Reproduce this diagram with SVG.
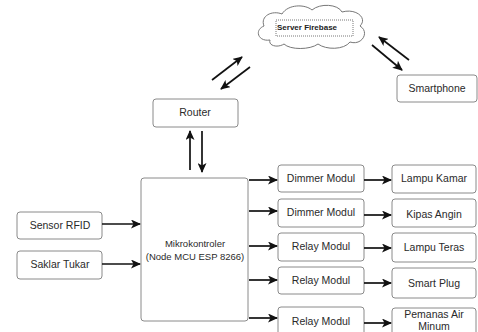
<svg xmlns="http://www.w3.org/2000/svg" width="478" height="332" viewBox="0 0 478 332">
<style>
.box{fill:#fff;stroke:#8a8a8a;stroke-width:1}
.t{font-family:"Liberation Sans",Arial,sans-serif;font-size:10.5px;fill:#2a2a2a;text-anchor:middle}
.c{stroke:#111;stroke-width:1.7;fill:none;marker-end:url(#ah)}
</style>
<defs>
<marker id="ah" markerUnits="userSpaceOnUse" markerWidth="11" markerHeight="9" refX="9" refY="4.5" orient="auto">
<path d="M0,0 L10,4.5 L0,9 L2.5,4.5 Z" fill="#111"/>
</marker>
</defs>
<rect width="478" height="332" fill="#fff"/>
<g id="cloud">
<path d="M270,40 C258,42 254,30 264,26 C260,16 272,10 282,14 C288,4 305,4 312,10 C320,3 338,4 342,12 C356,8 368,18 360,26 C370,32 362,46 350,42 C344,50 326,50 318,44 C310,50 290,50 284,44 C278,48 268,46 270,40 Z" fill="#fff" stroke="#777" stroke-width="1"/>
<rect x="276" y="20" width="77" height="16" fill="none" stroke="#555" stroke-width="0.8" stroke-dasharray="1,1"/>
<text x="277" y="30" style="font-family:'Liberation Sans',Arial,sans-serif;font-size:8px;font-weight:bold;fill:#222">Server Firebase</text>
</g>
<g id="smartphone"><rect class="box" x="397" y="75" width="80" height="27" rx="3"/><text class="t" x="437" y="92">Smartphone</text></g>
<g id="router"><rect class="box" x="153" y="99" width="85" height="28" rx="3"/><text class="t" x="195" y="116">Router</text></g>
<g id="mikro"><rect class="box" x="141" y="178" width="107" height="143" rx="3"/><text class="t" x="195" y="247" style="font-size:9.5px">Mikrokontroler</text><text class="t" x="195" y="260" style="font-size:9.5px">(Node MCU ESP 8266)</text></g>
<g id="rfid"><rect class="box" x="17" y="212" width="85" height="27" rx="3"/><text class="t" x="60" y="229">Sensor RFID</text></g>
<g id="saklar"><rect class="box" x="17" y="251" width="85" height="28" rx="3"/><text class="t" x="60" y="268">Saklar Tukar</text></g>
<g id="dimmer1"><rect class="box" x="278" y="165" width="86" height="27" rx="3"/><text class="t" x="321" y="182">Dimmer Modul</text></g>
<g id="dimmer2"><rect class="box" x="278" y="199" width="86" height="28" rx="3"/><text class="t" x="321" y="216">Dimmer Modul</text></g>
<g id="relay1"><rect class="box" x="278" y="233" width="86" height="28" rx="3"/><text class="t" x="321" y="250">Relay Modul</text></g>
<g id="relay2"><rect class="box" x="278" y="267" width="86" height="27" rx="3"/><text class="t" x="321" y="284">Relay Modul</text></g>
<g id="relay3"><rect class="box" x="278" y="307" width="86" height="30" rx="3"/><text class="t" x="321" y="325">Relay Modul</text></g>
<g id="lampukamar"><rect class="box" x="392" y="165" width="84" height="28" rx="3"/><text class="t" x="434" y="182">Lampu Kamar</text></g>
<g id="kipas"><rect class="box" x="392" y="199" width="84" height="28" rx="3"/><text class="t" x="434" y="218">Kipas Angin</text></g>
<g id="lamputeras"><rect class="box" x="392" y="233" width="84" height="29" rx="3"/><text class="t" x="434" y="251">Lampu Teras</text></g>
<g id="smartplug"><rect class="box" x="392" y="268" width="84" height="30" rx="3"/><text class="t" x="434" y="287">Smart Plug</text></g>
<g id="pemanas"><rect class="box" x="392" y="308" width="84" height="32" rx="3"/><text class="t" x="434" y="318">Pemanas Air</text><text class="t" x="434" y="330">Minum</text></g>
<g id="connectors">
<line class="c" x1="212" y1="80" x2="242" y2="57"/>
<line class="c" x1="250" y1="67" x2="221" y2="89"/>
<line class="c" x1="372" y1="45" x2="402" y2="70"/>
<line class="c" x1="409" y1="60" x2="379" y2="37"/>
<line class="c" x1="190" y1="170" x2="190" y2="131"/>
<line class="c" x1="202" y1="131" x2="202" y2="172"/>
<line class="c" x1="102" y1="224" x2="140" y2="224"/>
<line class="c" x1="102" y1="264" x2="140" y2="264"/>
<line class="c" x1="249" y1="180" x2="277" y2="180"/>
<line class="c" x1="249" y1="211" x2="277" y2="211"/>
<line class="c" x1="249" y1="246" x2="277" y2="246"/>
<line class="c" x1="249" y1="280" x2="277" y2="280"/>
<line class="c" x1="249" y1="318" x2="277" y2="318"/>
<line class="c" x1="364" y1="180" x2="391" y2="180"/>
<line class="c" x1="364" y1="215" x2="391" y2="215"/>
<line class="c" x1="364" y1="248" x2="391" y2="248"/>
<line class="c" x1="364" y1="283" x2="391" y2="283"/>
<line class="c" x1="364" y1="323" x2="391" y2="323"/>
</g>
</svg>
